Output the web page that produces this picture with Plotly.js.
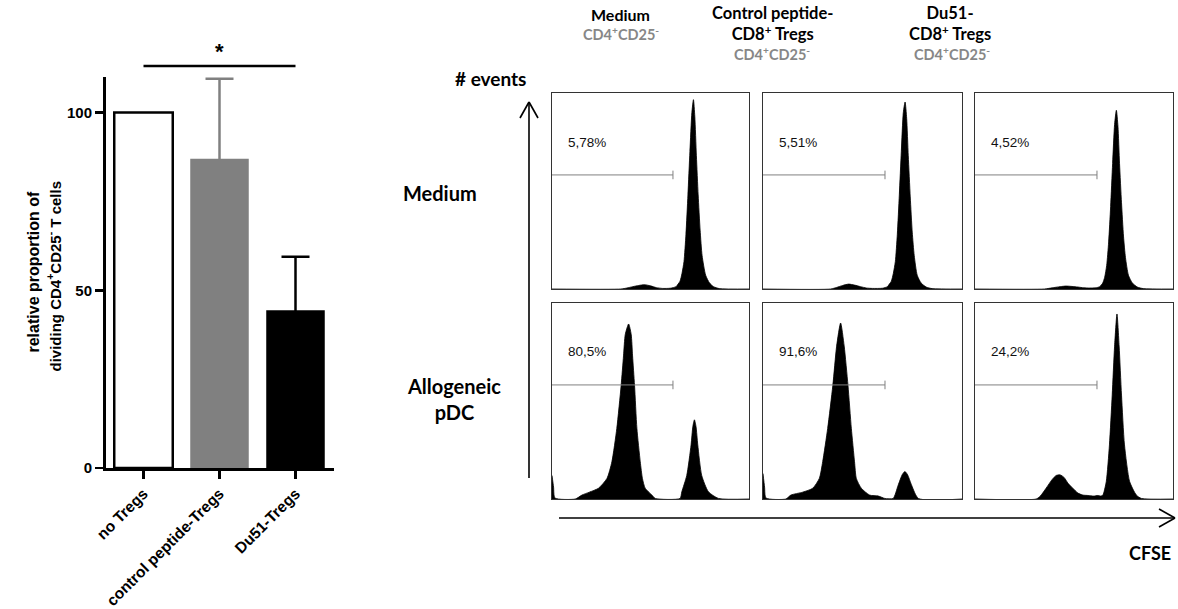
<!DOCTYPE html>
<html>
<head>
<meta charset="utf-8">
<script src="https://cdn.plot.ly/plotly-3.0.1.min.js"></script>
<style>html,body{margin:0;padding:0;background:#fff;}#chart{width:1178px;height:609px;}</style>
</head>
<body>
<div id="chart"></div>
<script>
// ---------- data ----------
const categories = ['no Tregs', 'control peptide-Tregs', 'Du51-Tregs'];
const meanValues = [100, 87, 44.4];
const semValues = [0, 22.5, 15];
const yTickValues = [0, 50, 100];

const columnTitles = ['Medium', 'Control peptide-<br>CD8<sup>+</sup> Tregs', 'Du51-<br>CD8<sup>+</sup> Tregs'];
const rowTitles = ['Medium', 'Allogeneic<br>pDC'];
const percentLabels = ['5,78%', '5,51%', '4,52%', '80,5%', '91,6%', '24,2%'];
const gateEnds = [61.4, 61.3, 61.6, 61.4, 61.3, 61.6];

// CFSE histograms (x: % of CFSE scale, y: % of max events)
const histA_x = [0, 35, 38, 41, 44, 47, 50, 53, 56, 60, 63, 64, 65, 66, 67, 68, 69, 70, 71, 71.8, 72.5, 73.3, 74.2, 75.2, 76.2, 78, 80, 82, 85, 100];
const histA_y = [0, 0, 0.5, 1.2, 1.8, 2.2, 1.6, 0.7, 0.3, 0.4, 1.2, 2.5, 4, 8, 14, 28, 48, 70, 90, 96.6, 88, 68, 48, 30, 17, 7, 3, 1.2, 0.2, 0];
const histB_x = [0, 34, 37, 40, 43, 46, 49, 52, 55, 60, 62.5, 63.5, 64.5, 65.5, 66.5, 67.5, 68.5, 69.5, 70.5, 71.4, 72.2, 73, 74, 75, 76, 77.5, 79.5, 82, 85, 100];
const histB_y = [0, 0, 0.8, 1.8, 2.5, 2, 1.2, 0.5, 0.3, 0.4, 1.2, 2.5, 4, 8, 14, 28, 48, 70, 90, 95.4, 87, 68, 47, 29, 17, 7, 3, 1, 0.2, 0];
const histC_x = [0, 35, 39, 43, 46, 49, 52, 55, 58, 61, 63, 64.5, 65.5, 66.5, 67.5, 68.5, 69.5, 70.5, 71.4, 72.2, 73, 74, 75, 76, 77.5, 79.5, 82, 85, 100];
const histC_y = [0, 0, 0.6, 1.2, 1.5, 1.3, 1.0, 0.6, 0.5, 0.6, 1.2, 3, 6, 12, 24, 42, 64, 84, 91.2, 83, 64, 44, 27, 16, 7, 3, 1, 0.2, 0];
const histD_x = [0, 0.8, 1.5, 11.8, 15.2, 19, 23.6, 27.9, 30.4, 32.9, 35.1, 36.3, 37.2, 38.9, 40.2, 40.9, 41.9, 43.1, 44.8, 45.9, 47.3, 50.7, 52.4, 65, 65.9, 68.4, 70.6, 71.5, 72.3, 73.1, 74, 76, 79.4, 84.5, 100];
const histD_y = [12, 6, 0.5, 0, 2, 3.5, 5.5, 10.5, 19, 36, 58, 73, 84, 89.3, 84, 73, 58, 36, 19, 10.5, 5.5, 2, 0.3, 0.3, 3.7, 12, 27.6, 37, 40.4, 37, 27.6, 12, 3.7, 0.3, 0];
const histE_x = [0, 0.8, 1.5, 11.5, 14, 20, 25, 28.3, 30, 32.5, 35.1, 37, 39, 40.8, 42.7, 44.4, 46, 46.9, 49.4, 53.6, 58, 61.2, 65.4, 67.9, 70, 71.3, 72.6, 74.7, 78.1, 100];
const histE_y = [13, 6, 0.5, 0, 2, 3.5, 5.5, 10.5, 19, 36, 58, 78, 89.8, 78, 58, 36, 19, 10.5, 5.5, 2, 1.5, 0.3, 0.3, 7, 12.5, 14, 12.5, 7, 0.3, 0];
const histF_x = [0, 30.9, 33, 35.9, 39, 41, 43, 45, 47, 49.4, 52, 54.5, 57, 60, 62, 63.7, 64.6, 66.3, 67.9, 69.3, 70.5, 71.7, 72.8, 74, 75.5, 78.1, 81.5, 84, 100];
const histF_y = [0, 0, 1.5, 5.5, 10, 12, 12.3, 11, 8, 5.5, 3, 2, 1.8, 1.5, 1.8, 1.5, 2, 8.9, 27.6, 53, 78, 94.4, 78, 53, 27.6, 8.9, 2, 0.3, 0];

// ---------- layout helpers ----------
const W = 1178, H = 609;
const px = v => v / W;
const py = v => 1 - v / H;
const ARIAL = "'Liberation Sans', Arial, sans-serif";
const CAL = "Lato, Carlito, Calibri, sans-serif";

const traces = [];
const colors = ['#ffffff', '#808080', '#000000'];
for (let i = 0; i < categories.length; i++) {
  traces.push({
    type: 'bar', x: [categories[i]], y: [meanValues[i]], width: 0.77,
    marker: {color: colors[i], line: {color: i === 0 ? '#000' : colors[i], width: i === 0 ? 2.5 : 0}},
    xaxis: 'x', yaxis: 'y', hoverinfo: 'skip', showlegend: false
  });
}
// upper error whiskers (lower half hides inside the same-coloured bar)
for (let i = 0; i < categories.length; i++) {
  if (semValues[i] > 0) {
    traces.push({type: 'scatter', mode: 'markers', x: [categories[i]], y: [meanValues[i]],
      marker: {size: 1, opacity: 0}, xaxis: 'x', yaxis: 'y', hoverinfo: 'skip', showlegend: false,
      error_y: {type: 'data', symmetric: true, array: [semValues[i]], color: colors[i], thickness: 2.5, width: 14}});
  }
}

const hists = [[histA_x, histA_y], [histB_x, histB_y], [histC_x, histC_y],
               [histD_x, histD_y], [histE_x, histE_y], [histF_x, histF_y]];
const colPx = [[552, 749], [763, 962], [975, 1173]];
const rowPx = [[93, 289], [303, 499]];

const layout = {
  width: W, height: H, margin: {l: 0, r: 0, t: 0, b: 0},
  paper_bgcolor: '#fff', plot_bgcolor: 'rgba(0,0,0,0)',
  barmode: 'overlay', showlegend: false,
  xaxis: {domain: [px(105.5), px(333.5)], type: 'category', categoryorder: 'array', categoryarray: categories,
    range: [-0.5, 2.5], showline: true, linecolor: '#000', linewidth: 2.5, ticks: 'outside', ticklen: 8,
    tickwidth: 2.5, tickcolor: '#000', tickangle: -45, showgrid: false, zeroline: false,
    tickfont: {family: ARIAL, size: 15.5, weight: 'bold', color: '#000'}},
  yaxis: {domain: [py(468), py(77)], range: [0, 110], tickvals: yTickValues, showline: true,
    linecolor: '#000', linewidth: 2.5, ticks: 'outside', ticklen: 8, tickwidth: 2.5, tickcolor: '#000',
    showgrid: false, zeroline: false, tickfont: {family: ARIAL, size: 15, weight: 'bold', color: '#000'}},
  shapes: [], annotations: []
};

hists.forEach((h, k) => {
  const n = k + 2, r = Math.floor(k / 3), c = k % 3;
  traces.push({type: 'scatter', mode: 'lines', x: h[0], y: h[1], fill: 'tozeroy',
    fillcolor: '#000', line: {color: '#000', width: 0.8, shape: 'spline', smoothing: 0.6},
    xaxis: 'x' + n, yaxis: 'y' + n, hoverinfo: 'skip', showlegend: false});
  const ax = {showticklabels: false, ticks: '', showgrid: false, zeroline: false,
    showline: true, mirror: true, linecolor: '#333', linewidth: 1, fixedrange: true};
  layout['xaxis' + n] = Object.assign({}, ax, {domain: [px(colPx[c][0]), px(colPx[c][1])], range: [0, 100], anchor: 'y' + n});
  layout['yaxis' + n] = Object.assign({}, ax, {domain: [py(rowPx[r][1]), py(rowPx[r][0])], range: [0, 100], anchor: 'x' + n});
  const g = gateEnds[k], gy = 58.2;
  layout.shapes.push({type: 'line', xref: 'x' + n, yref: 'y' + n, x0: 0, x1: g, y0: gy, y1: gy, line: {color: '#808080', width: 1}});
  layout.shapes.push({type: 'line', xref: 'x' + n, yref: 'y' + n, x0: g, x1: g, y0: gy - 2.2, y1: gy + 2.2, line: {color: '#808080', width: 1}});
  layout.annotations.push({xref: 'x' + n, yref: 'y' + n, x: 7, y: 75, xanchor: 'left', yanchor: 'middle',
    text: percentLabels[k], showarrow: false, font: {family: ARIAL, size: 13.5, color: '#111'}});
});

// significance bar
layout.shapes.push({type: 'line', xref: 'x', yref: 'paper', x0: 0, x1: 2, y0: py(66), y1: py(66), line: {color: '#000', width: 2.5}});
layout.annotations.push({xref: 'x', yref: 'paper', x: 1, y: py(51), text: '*', showarrow: false,
  font: {family: ARIAL, size: 22, weight: 'bold', color: '#000'}, yanchor: 'middle'});

// y-axis title (two lines)
layout.annotations.push({xref: 'paper', yref: 'paper', x: px(22), y: py(272), textangle: -90, showarrow: false,
  text: 'relative proportion of', font: {family: ARIAL, size: 16, weight: 'bold', color: '#000'}});
layout.annotations.push({xref: 'paper', yref: 'paper', x: px(42), y: py(276), textangle: -90, showarrow: false,
  text: 'dividing CD4<sup>+</sup>CD25<sup>-</sup> T cells', font: {family: ARIAL, size: 15, weight: 'bold', color: '#000'}});

// arrows
const black = {color: '#000', width: 1.6};
[[529, 478, 529, 102], [529, 102, 520, 118], [529, 102, 538, 118],
 [559, 518, 1175, 518], [1175, 518, 1159, 509], [1175, 518, 1159, 527]].forEach(s => {
  layout.shapes.push({type: 'line', xref: 'paper', yref: 'paper', x0: px(s[0]), y0: py(s[1]), x1: px(s[2]), y1: py(s[3]), line: black});
});

const lbl = (x, y, text, size, color, weight) => layout.annotations.push({xref: 'paper', yref: 'paper',
  x: px(x), y: py(y), text: text, showarrow: false, xanchor: 'center', yanchor: 'middle',
  font: {family: CAL, size: size, color: color || '#000', weight: weight || 'bold'}});

lbl(490, 78, '# events', 19);
lbl(1150, 553, 'CFSE', 18);
lbl(440, 193, rowTitles[0], 20);
lbl(454, 399, rowTitles[1], 20);
const grayTitle = 'CD4<sup>+</sup>CD25<sup>-</sup>';
lbl(620, 15, columnTitles[0], 16);
lbl(621, 33, grayTitle, 14.5, '#878787', 'bold');
lbl(772, 24, columnTitles[1], 16.5);
lbl(772, 53, grayTitle, 14.5, '#878787', 'bold');
lbl(950, 24, columnTitles[2], 16.5);
lbl(952, 53, grayTitle, 14.5, '#878787', 'bold');

Plotly.newPlot('chart', traces, layout, {staticPlot: true, displayModeBar: false});
</script>
</body>
</html>
